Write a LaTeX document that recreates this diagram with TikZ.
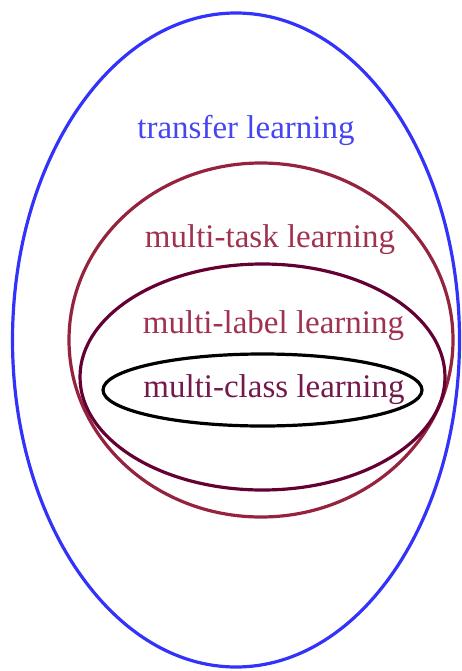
\documentclass[tikz,border=0pt]{standalone}
\usepackage{fontspec}
\setmainfont{Liberation Serif}
\definecolor{tlblue}{RGB}{50,50,250}
\definecolor{tltext}{RGB}{70,70,240}
\definecolor{mtred}{RGB}{150,35,62}
\definecolor{mltext}{RGB}{160,50,80}
\definecolor{mlpurple}{RGB}{100,0,50}
\definecolor{mctext}{RGB}{115,25,75}
\begin{document}
\begin{tikzpicture}[x=1pt,y=-1pt,
  ring/.style={line width=3.2pt},
  label/.style={inner sep=0pt,anchor=base,font=\fontsize{33}{40}\selectfont}]
\useasboundingbox (0,0) rectangle (461,671);
% nested ellipses, outermost first
\draw[ring,tlblue]   (236,340) ellipse [x radius=223.5, y radius=327];
\draw[ring,mtred]    (261,340) ellipse [x radius=192, y radius=177];
\draw[ring,mlpurple] (262.5,377) ellipse [x radius=182.5, y radius=113];
\draw[ring,black]    (262.5,390) ellipse [x radius=159.5, y radius=36];
% labels
\node[label,text=tltext]   (tl) at (246,139) {transfer learning};
\node[label,text=mltext]   (mt) at (270,247) {multi-task learning};
\node[label,text=mltext]   (ml) at (273.5,333) {multi-label learning};
\node[label,text=mctext]   (mc) at (274,397) {multi-class learning};
\end{tikzpicture}
\end{document}
